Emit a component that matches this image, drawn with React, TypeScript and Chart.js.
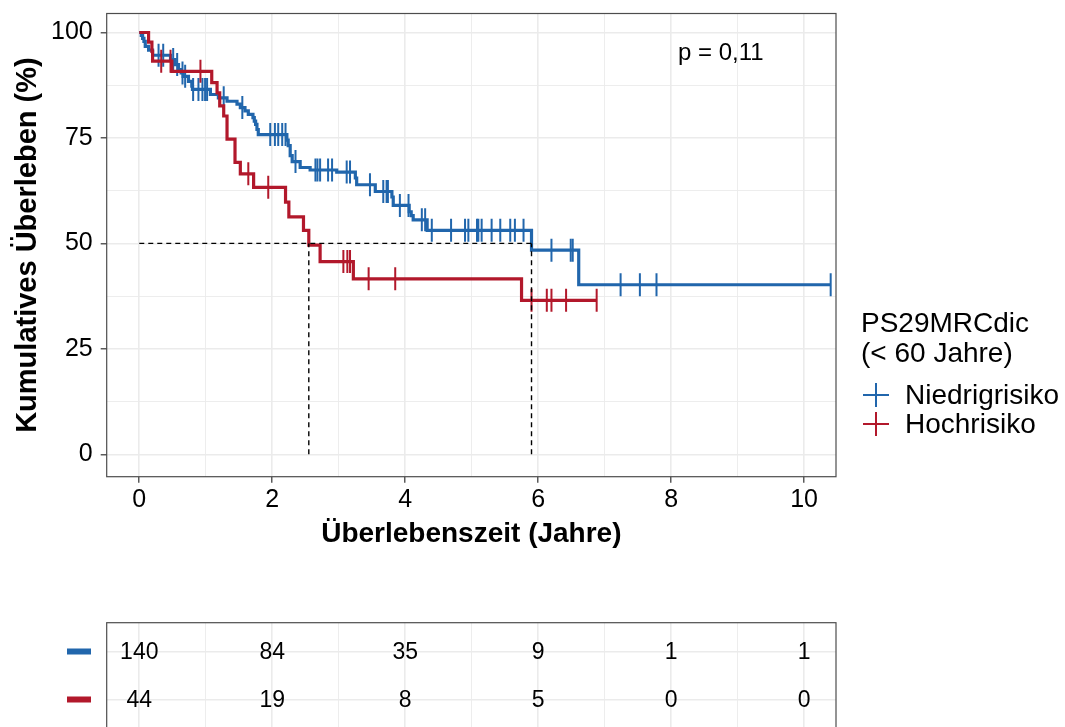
import React, { useEffect, useRef } from "react";
import { Chart, registerables } from "chart.js";

Chart.register(...registerables);

const FONT = "'Liberation Sans', Arial, Helvetica, sans-serif";

// ---------- data ----------
const groupNames = ["Niedrigrisiko", "Hochrisiko"];
const groupColors = ["#2166AC", "#B2182B"];
const legendTitle = ["PS29MRCdic", "(< 60 Jahre)"];
const pValueText = "p = 0,11";
const xTitle = "Überlebenszeit (Jahre)";
const yTitle = "Kumulatives Überleben (%)";

const xTickLabels = [0, 2, 4, 6, 8, 10];
const xGridValues = [0, 1, 2, 3, 4, 5, 6, 7, 8, 9, 10];
const yTickLabels = [0, 25, 50, 75, 100];
const yGridValues = [0, 12.5, 25, 37.5, 50, 62.5, 75, 87.5, 100];

// Niedrigrisiko step curve (time in years, survival %)
const blueTimes = [0, 0.03, 0.05, 0.07, 0.09, 0.14, 0.2, 0.47, 0.54, 0.59, 0.63, 0.66, 0.74, 0.79, 0.8, 1.07, 1.19, 1.32, 1.47, 1.52, 1.59, 1.64, 1.71, 1.73, 1.75, 1.77, 1.79, 2.22, 2.24, 2.27, 2.3, 2.42, 2.57, 2.97, 3.25, 3.27, 3.55, 3.8, 3.82, 4.06, 4.09, 4.12, 4.33, 5.9, 6.61, 10.4];
const blueSurv = [100, 99.3, 98.6, 97.9, 96.7, 95.8, 94.6, 93.6, 92.4, 91.2, 90.4, 89.6, 88.4, 87.3, 86.5, 85.3, 84.5, 83.7, 83.0, 82.2, 81.4, 80.6, 79.8, 79.0, 78.2, 77.0, 75.8, 74.5, 73.2, 70.8, 69.4, 68.0, 67.4, 66.9, 65.5, 63.9, 62.3, 61.0, 59.0, 57.5, 56.6, 55.6, 53.1, 48.4, 40.2, 40.2];
const blueCensor = [0.29, 0.36, 0.51, 0.57, 0.65, 0.69, 0.81, 0.89, 0.95, 0.99, 1.02, 1.27, 1.55, 1.97, 2.04, 2.09, 2.15, 2.2, 2.35, 2.65, 2.68, 2.72, 2.84, 2.9, 3.12, 3.17, 3.47, 3.67, 3.72, 3.74, 3.92, 4.05, 4.25, 4.3, 4.4, 4.69, 4.9, 4.95, 5.08, 5.1, 5.15, 5.3, 5.43, 5.58, 5.65, 5.78, 6.2, 6.49, 6.52, 7.24, 7.53, 7.78, 10.4];

// Hochrisiko step curve
const redTimes = [0, 0.14, 0.19, 0.2, 0.49, 1.09, 1.17, 1.21, 1.27, 1.32, 1.44, 1.52, 1.72, 2.2, 2.25, 2.47, 2.55, 2.72, 3.22, 5.75, 6.88];
const redSurv = [100, 97.7, 95.5, 93.2, 90.8, 88.1, 85.7, 82.6, 80.2, 74.7, 69.2, 66.5, 63.3, 59.8, 56.3, 53.1, 49.6, 45.7, 41.6, 36.5, 36.5];
const redCensor = [0.33, 0.47, 0.92, 1.64, 1.94, 3.07, 3.13, 3.17, 3.45, 3.85, 5.9, 6.13, 6.2, 6.42, 6.88];

// medians (years) for the two groups
const medianTimes = [5.9, 2.55];
const medianLevel = 50;

// numbers at risk
const riskTimes = [0, 2, 4, 6, 8, 10];
const riskBlue = [140, 84, 35, 9, 1, 1];
const riskRed = [44, 19, 8, 5, 0, 0];

// ---------- helpers ----------
const stepAt = (times: number[], surv: number[], t: number) => {
  let s = surv[0];
  for (let i = 0; i < times.length; i++) if (times[i] <= t) s = surv[i];
  return s;
};
const toPts = (times: number[], surv: number[]) => times.map((t, i) => ({ x: t, y: surv[i] }));
const censorPts = (c: number[], times: number[], surv: number[]) => c.map((t) => ({ x: t, y: stepAt(times, surv, t) }));

const borderPlugin = {
  id: "panelBorder",
  afterDraw(chart: any) {
    const { ctx, chartArea: a } = chart;
    ctx.save();
    ctx.strokeStyle = "#4D4D4D";
    ctx.lineWidth = 1.2;
    ctx.strokeRect(a.left, a.top, a.right - a.left, a.bottom - a.top);
    ctx.restore();
  },
};

const annotPlugin = {
  id: "kmAnnot",
  afterDraw(chart: any) {
    const { ctx } = chart;
    ctx.save();
    ctx.fillStyle = "#000";
    ctx.font = `24px ${FONT}`;
    ctx.textAlign = "left";
    ctx.textBaseline = "alphabetic";
    ctx.fillText(pValueText, 678, 60);
    ctx.font = `28px ${FONT}`;
    ctx.fillText(legendTitle[0], 861, 332);
    ctx.fillText(legendTitle[1], 861, 362);
    const itemY = [395, 424];
    groupNames.forEach((name, i) => {
      const cy = itemY[i];
      ctx.strokeStyle = groupColors[i];
      ctx.lineWidth = 2;
      ctx.beginPath();
      ctx.moveTo(863, cy);
      ctx.lineTo(889, cy);
      ctx.moveTo(876, cy - 12);
      ctx.lineTo(876, cy + 12);
      ctx.stroke();
      ctx.fillStyle = "#000";
      ctx.textBaseline = "middle";
      ctx.fillText(name, 905, cy + 1);
    });
    ctx.restore();
  },
};

const riskPlugin = {
  id: "riskTable",
  afterDraw(chart: any) {
    const { ctx } = chart;
    const xs = chart.scales.x;
    const ys = chart.scales.y;
    ctx.save();
    ctx.font = `23px ${FONT}`;
    ctx.fillStyle = "#000";
    ctx.textAlign = "center";
    ctx.textBaseline = "middle";
    const rows = [riskBlue, riskRed];
    const rowVals = [2, 1];
    rows.forEach((row, r) => {
      const y = ys.getPixelForValue(rowVals[r]);
      row.forEach((n, i) => {
        ctx.fillText(String(n), xs.getPixelForValue(riskTimes[i]), y + 1);
      });
      ctx.fillStyle = groupColors[r];
      ctx.fillRect(67, y - 3, 24, 6);
      ctx.fillStyle = "#000";
    });
    ctx.restore();
  },
};

const X_MIN = -0.49;
const X_MAX = 10.48;

export default function App() {
  const mainRef = useRef<HTMLCanvasElement>(null);
  const tableRef = useRef<HTMLCanvasElement>(null);

  useEffect(() => {
    const isMajorX = (v: number) => xTickLabels.includes(v);
    const isMajorY = (v: number) => yTickLabels.includes(v);

    const censorStyle = (color: string, order: number) => ({
      showLine: false, pointStyle: "line", rotation: 90, pointRotation: 90, pointRadius: 11.5,
      pointBorderWidth: 2, borderColor: color, pointBorderColor: color, order,
    });

    const main = new Chart(mainRef.current as HTMLCanvasElement, {
      type: "line",
      data: {
        datasets: [
          {
            data: [{ x: 0, y: medianLevel }, { x: medianTimes[0], y: medianLevel }],
            borderColor: "#000", borderWidth: 1.4, borderDash: [5, 4], pointRadius: 0, order: 0,
          },
          {
            data: [{ x: medianTimes[1], y: 0 }, { x: medianTimes[1], y: medianLevel }],
            borderColor: "#000", borderWidth: 1.4, borderDash: [5, 4], pointRadius: 0, order: 0,
          },
          {
            data: [{ x: medianTimes[0], y: 0 }, { x: medianTimes[0], y: medianLevel }],
            borderColor: "#000", borderWidth: 1.4, borderDash: [5, 4], pointRadius: 0, order: 0,
          },
          { data: censorPts(redCensor, redTimes, redSurv), ...censorStyle(groupColors[1], 1) },
          {
            data: toPts(redTimes, redSurv), stepped: "before", borderColor: groupColors[1],
            borderWidth: 3.2, pointRadius: 0, order: 2,
          },
          { data: censorPts(blueCensor, blueTimes, blueSurv), ...censorStyle(groupColors[0], 3) },
          {
            data: toPts(blueTimes, blueSurv), stepped: "before", borderColor: groupColors[0],
            borderWidth: 3.2, pointRadius: 0, order: 4,
          },
        ],
      },
      options: {
        animation: false,
        responsive: false,
        maintainAspectRatio: false,
        events: [],
        layout: { padding: { left: 0, top: 10, right: 229, bottom: 48.8 } },
        plugins: { legend: { display: false }, tooltip: { enabled: false } },
        scales: {
          x: {
            type: "linear",
            min: X_MIN,
            max: X_MAX,
            afterBuildTicks: (s: any) => { s.ticks = xGridValues.map((v) => ({ value: v })); },
            afterFit: (s: any) => { s.height = 74.5; s.paddingLeft = 0; s.paddingRight = 0; },
            border: { display: false },
            grid: {
              color: "#EBEBEB",
              lineWidth: (c: any) => (isMajorX(c.tick?.value) ? 1.6 : 0.9),
              tickColor: (c: any) => (isMajorX(c.tick?.value) ? "#333333" : "rgba(0,0,0,0)"),
              tickLength: 6,
              tickWidth: 1.2,
            },
            ticks: {
              autoSkip: false, maxRotation: 0, padding: 2, color: "#000",
              font: { family: FONT, size: 25 },
              callback: (v: any) => (isMajorX(Number(v)) ? String(v) : ""),
            },
            title: {
              display: true, text: xTitle, color: "#000",
              font: { family: FONT, size: 28, weight: "bold" },
              padding: { top: 0, bottom: 0 },
            },
          },
          y: {
            type: "linear",
            min: -5.3,
            max: 104.5,
            afterBuildTicks: (s: any) => { s.ticks = yGridValues.map((v) => ({ value: v })); },
            afterFit: (s: any) => { s.width = 106.7; s.paddingTop = 0; s.paddingBottom = 0; },
            border: { display: false },
            grid: {
              color: "#EBEBEB",
              lineWidth: (c: any) => (isMajorY(c.tick?.value) ? 1.6 : 0.9),
              tickColor: (c: any) => (isMajorY(c.tick?.value) ? "#333333" : "rgba(0,0,0,0)"),
              tickLength: 6,
              tickWidth: 1.2,
            },
            ticks: {
              autoSkip: false, padding: 8, color: "#000",
              font: { family: FONT, size: 25 },
              callback: (v: any) => (isMajorY(Number(v)) ? String(v) : ""),
            },
            title: {
              display: true, text: yTitle, color: "#000",
              font: { family: FONT, size: 29, weight: "bold" },
              padding: { top: 11, bottom: 0 },
            },
          },
        },
      },
      plugins: [borderPlugin, annotPlugin],
    } as any);

    const table = new Chart(tableRef.current as HTMLCanvasElement, {
      type: "line",
      data: { datasets: [{ data: [], pointRadius: 0 }] },
      options: {
        animation: false,
        responsive: false,
        maintainAspectRatio: false,
        events: [],
        layout: { padding: { left: 0, top: 22.7, right: 229, bottom: 31.7 } },
        plugins: { legend: { display: false }, tooltip: { enabled: false } },
        scales: {
          x: {
            type: "linear", min: X_MIN, max: X_MAX,
            afterBuildTicks: (s: any) => { s.ticks = xGridValues.map((v) => ({ value: v })); },
            afterFit: (s: any) => { s.height = 0; s.paddingLeft = 0; s.paddingRight = 0; },
            border: { display: false },
            grid: {
              color: "#EBEBEB",
              lineWidth: (c: any) => (isMajorX(c.tick?.value) ? 1.6 : 0.9),
              drawTicks: false,
            },
            ticks: { display: false },
          },
          y: {
            type: "linear", min: 0.4, max: 2.6,
            afterBuildTicks: (s: any) => { s.ticks = [1, 2].map((v) => ({ value: v })); },
            afterFit: (s: any) => { s.width = 106.7; s.paddingTop = 0; s.paddingBottom = 0; },
            border: { display: false },
            grid: { color: "#EBEBEB", lineWidth: 1.6, drawTicks: false },
            ticks: { display: false },
          },
        },
      },
      plugins: [borderPlugin, riskPlugin],
    } as any);

    return () => {
      main.destroy();
      table.destroy();
    };
  }, []);

  return (
    <div style={{ position: "absolute", left: 0, top: 0, width: 1065, height: 727, overflow: "hidden", background: "#fff" }}>
      <canvas ref={mainRef} width={1065} height={600} style={{ position: "absolute", left: 0, top: 0, width: 1065, height: 600 }} />
      <canvas ref={tableRef} width={1065} height={160} style={{ position: "absolute", left: 0, top: 600, width: 1065, height: 160 }} />
    </div>
  );
}
